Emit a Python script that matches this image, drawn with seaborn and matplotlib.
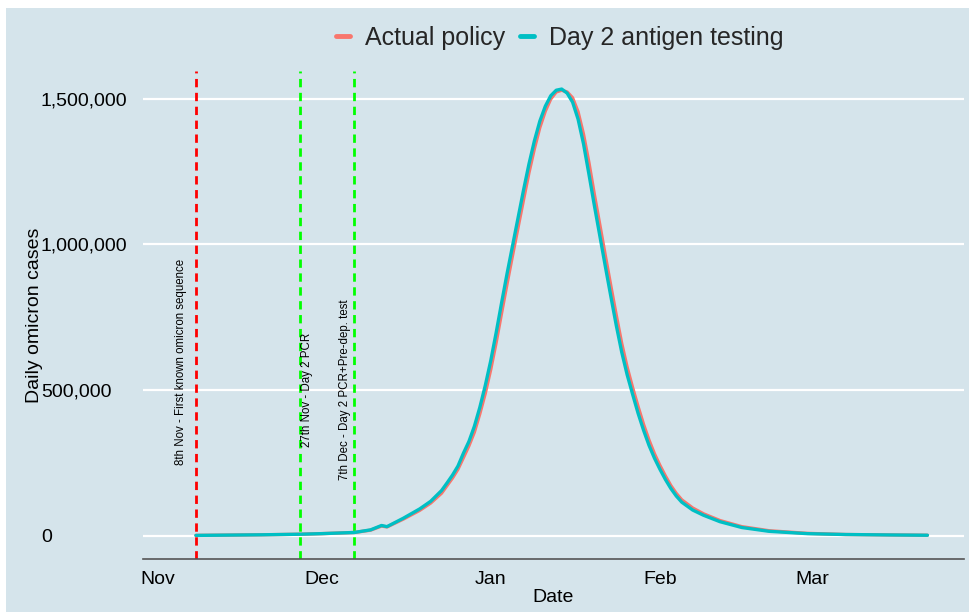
import matplotlib
matplotlib.use("Agg")
import matplotlib.pyplot as plt
import matplotlib.dates as mdates
from matplotlib.ticker import FuncFormatter, FixedLocator
from matplotlib.patches import Rectangle
import seaborn as sns
import pandas as pd
import numpy as np

# ---------------- data ----------------
dates = ["2021-11-08", "2021-11-14", "2021-11-20", "2021-11-27", "2021-12-01", "2021-12-04",
         "2021-12-07", "2021-12-10", "2021-12-12", "2021-12-13", "2021-12-16", "2021-12-19",
         "2021-12-21", "2021-12-23", "2021-12-24", "2021-12-25", "2021-12-26", "2021-12-27",
         "2021-12-28", "2021-12-29", "2021-12-30", "2021-12-31", "2022-01-01", "2022-01-02",
         "2022-01-03", "2022-01-04", "2022-01-05", "2022-01-06", "2022-01-07", "2022-01-08",
         "2022-01-09", "2022-01-10", "2022-01-11", "2022-01-12", "2022-01-13", "2022-01-14",
         "2022-01-15", "2022-01-16", "2022-01-17", "2022-01-18", "2022-01-19", "2022-01-20",
         "2022-01-21", "2022-01-22", "2022-01-23", "2022-01-24", "2022-01-25", "2022-01-26",
         "2022-01-27", "2022-01-28", "2022-01-29", "2022-01-30", "2022-01-31", "2022-02-01",
         "2022-02-02", "2022-02-03", "2022-02-04", "2022-02-05", "2022-02-07", "2022-02-09",
         "2022-02-12", "2022-02-16", "2022-02-21", "2022-02-28", "2022-03-07", "2022-03-15",
         "2022-03-22"]

# daily cases, thousands
actual_policy_k = [1, 2, 3, 5, 7, 9,
                   11, 19, 33, 30, 57, 87,
                   112, 146, 172, 198, 228, 268,
                   308, 355, 418, 488, 570, 663,
                   765, 865, 962, 1057, 1152, 1245,
                   1328, 1401, 1457, 1499, 1523, 1529,
                   1523, 1503, 1455, 1378, 1280, 1170,
                   1066, 961, 858, 757, 660, 578,
                   508, 443, 382, 328, 281, 241,
                   205, 172, 145, 123, 95, 75,
                   52, 31, 17, 8, 4, 2.5,
                   1.5]

day2_antigen_k = [1, 2, 3, 5, 7, 9,
                  11, 20, 35, 31, 60, 92,
                  118, 155, 181, 208, 239, 283,
                  323, 375, 440, 515, 600, 697,
                  800, 900, 995, 1090, 1185, 1275,
                  1355, 1423, 1474, 1510, 1529, 1533,
                  1519, 1488, 1430, 1345, 1240, 1132,
                  1028, 924, 822, 722, 630, 552,
                  485, 420, 362, 310, 266, 228,
                  193, 162, 136, 115, 88, 70,
                  48, 28, 15, 7, 4, 2.5,
                  1.5]

series_names = ["Actual policy", "Day 2 antigen testing"]
series_colors = ["#F8766D", "#00BFC4"]

events = ["2021-11-08", "2021-11-27", "2021-12-07"]
event_labels = ["8th Nov - First known omicron sequence",
                "27th Nov - Day 2 PCR",
                "7th Dec - Day 2 PCR+Pre-dep. test"]
event_colors = ["#FF0000", "#00FF00", "#00FF00"]
event_label_y = [596000, 500000, 500000]
event_label_offset_pt = [-10.8, 5.0, -6.5]

y_ticks = [0, 500000, 1000000, 1500000]

# ---------------- frame ----------------
df = pd.DataFrame({
    "Date": pd.to_datetime(dates * 2),
    "cases": np.array(actual_policy_k + day2_antigen_k) * 1000.0,
    "scenario": [series_names[0]] * len(dates) + [series_names[1]] * len(dates),
})

BG = "#d5e4eb"
FONT = ["Liberation Sans", "DejaVu Sans"]

sns.set_theme(style="white")
plt.rcParams["font.family"] = FONT

W, H = 969, 612
fig = plt.figure(figsize=(W / 100, H / 100), dpi=100)
fig.patch.set_facecolor("white")
fig.patches.append(Rectangle((6 / W, 0), 1 - 6 / W, 1 - 8 / H, transform=fig.transFigure,
                             facecolor=BG, edgecolor="none", zorder=-10))

ax_left, ax_right, ax_top, ax_bottom = 142.7, 964.0, 71.0, 558.7
ax = fig.add_axes([ax_left / W, 1 - ax_bottom / H, (ax_right - ax_left) / W, (ax_bottom - ax_top) / H])
ax.set_facecolor(BG)

# gridlines
for yt in y_ticks:
    ax.axhline(yt, color="white", lw=1.6, zorder=0)

sns.lineplot(data=df, x="Date", y="cases", hue="scenario", hue_order=series_names,
             palette=series_colors, linewidth=2.4, ax=ax, legend=True, zorder=3)

# event lines and labels
for d, lab, c, yv, off in zip(events, event_labels, event_colors, event_label_y, event_label_offset_pt):
    dd = pd.Timestamp(d)
    ax.axvline(dd, color=c, lw=2.0, dashes=(3.0, 2.0), zorder=2)
    ax.annotate(lab, xy=(dd, yv), xytext=(off, 0), textcoords="offset points",
                rotation=90, ha="center", va="center", fontsize=8.3, color="black")

# axes limits
x0 = pd.Timestamp("2021-11-01")
ax.set_xlim(x0 - pd.Timedelta(days=2.75), x0 + pd.Timedelta(days=147.7))
ax.set_ylim(-79000, 1595000)

# x axis
ax.xaxis.set_major_locator(mdates.MonthLocator())
ax.xaxis.set_major_formatter(mdates.DateFormatter("%b"))
ax.tick_params(axis="x", direction="in", length=5, width=1, color="#555555",
               labelsize=14, pad=9, labelcolor="black")
ax.set_xlabel("Date", fontsize=14, color="black", va="center")
ax.xaxis.set_label_coords(0.5, -(598 - ax_bottom) / (ax_bottom - ax_top))

# y axis
ax.yaxis.set_major_locator(FixedLocator(y_ticks))
ax.yaxis.set_major_formatter(FuncFormatter(lambda v, p: f"{int(v):,}"))
ax.tick_params(axis="y", length=0, labelsize=14, pad=(ax_left - 41) * 0.72, labelcolor="black")
for t in ax.get_yticklabels():
    t.set_horizontalalignment("left")
ax.set_ylabel("Daily omicron cases", fontsize=14, color="black", va="center")
ax.yaxis.set_label_coords((35 - ax_left) / (ax_right - ax_left), 0.5)

for s in ["top", "right", "left"]:
    ax.spines[s].set_visible(False)
ax.spines["bottom"].set_color("#555555")
ax.spines["bottom"].set_linewidth(1.2)

# legend
ax.get_legend().remove()
handles = [plt.Line2D([], [], color=c, lw=3.5) for c in series_colors]
fig.legend(handles, series_names, loc="center", bbox_to_anchor=(560 / W, 1 - 38 / H),
           ncol=2, frameon=False, fontsize=18, handlelength=0.55, handletextpad=0.6,
           columnspacing=0.6)

fig.savefig("out.png", dpi=100, facecolor=fig.get_facecolor())
